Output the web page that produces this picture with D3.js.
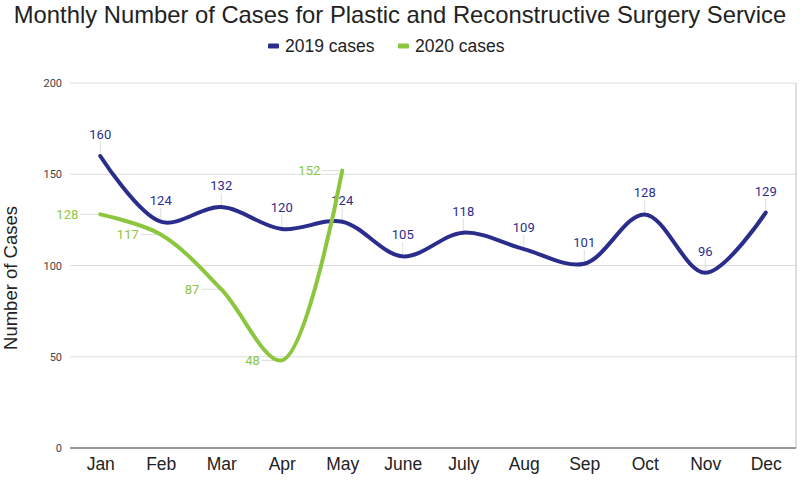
<!DOCTYPE html>
<html>
<head>
<meta charset="utf-8">
<script src="https://cdn.jsdelivr.net/npm/d3@7"></script>
<style>
  body { margin: 0; background: #fff; }
  svg { display: block; }
</style>
</head>
<body>
<svg id="chart" width="800" height="480"></svg>
<script>
// data
var months = ["Jan", "Feb", "Mar", "Apr", "May", "June", "July", "Aug", "Sep", "Oct", "Nov", "Dec"];
var cases2019 = [160, 124, 132, 120, 124, 105, 118, 109, 101, 128, 96, 129];
var cases2020 = [128, 117, 87, 48, 152];
var yTicks = [0, 50, 100, 150, 200];
var seriesNames = ["2019 cases", "2020 cases"];
var seriesColors = ["#2b2d8c", "#8cc63f"];

var margin = { top: 83, right: 4, bottom: 32, left: 70 },
    width = 800 - margin.left - margin.right,
    height = 480 - margin.top - margin.bottom;

var svg = d3.select("#chart");

// title
svg.append("text")
    .attr("x", 400)
    .attr("y", 23)
    .attr("text-anchor", "middle")
    .style("font-family", "Liberation Sans, Arial, sans-serif")
    .style("font-size", "23.8px")
    .style("fill", "#222")
    .text("Monthly Number of Cases for Plastic and Reconstructive Surgery Service");

// legend
var legend = svg.append("g").attr("transform", "translate(268,46)");
var legendX = [0, 130];
seriesNames.forEach(function(name, i) {
    var g = legend.append("g").attr("transform", "translate(" + legendX[i] + ",0)");
    g.append("rect")
        .attr("x", 0).attr("y", -2.5)
        .attr("width", 11).attr("height", 5)
        .attr("rx", 1)
        .style("fill", seriesColors[i]);
    g.append("text")
        .attr("x", 17).attr("y", 6)
        .style("font-family", "Liberation Sans, Arial, sans-serif")
        .style("font-size", "17.5px")
        .style("fill", "#222")
        .text(name);
});

var chart = svg.append("g")
    .attr("transform", "translate(" + margin.left + "," + margin.top + ")");

var x = d3.scalePoint()
    .domain(months)
    .range([0, width])
    .padding(0.5);

var y = d3.scaleLinear()
    .domain([0, 200])
    .range([height, 0]);

// gridlines
chart.append("g")
    .selectAll("line")
    .data(yTicks.slice(1))
    .enter().append("line")
    .attr("x1", 0).attr("x2", width)
    .attr("y1", function(d) { return y(d); })
    .attr("y2", function(d) { return y(d); })
    .style("stroke", "#dcdcdc")
    .style("stroke-width", 1.2);

// right border
chart.append("line")
    .attr("x1", width).attr("x2", width)
    .attr("y1", 0).attr("y2", height)
    .style("stroke", "#c8c8c8")
    .style("stroke-width", 1.2);

// y axis labels
var yAxis = chart.append("g")
    .call(d3.axisLeft(y).tickValues(yTicks).tickSize(0).tickPadding(8));
yAxis.select(".domain").remove();
yAxis.selectAll("text")
    .style("font-family", "Roboto, Arial, sans-serif")
    .style("font-size", "11px")
    .style("fill", "#444");

// x axis
var xAxis = chart.append("g")
    .attr("transform", "translate(0," + height + ")")
    .call(d3.axisBottom(x).tickSize(0).tickPadding(10));
xAxis.select(".domain")
    .style("stroke", "#777")
    .style("stroke-width", 1.5)
    .attr("d", "M0,0H" + width);
xAxis.selectAll("text")
    .style("font-family", "Liberation Sans, Arial, sans-serif")
    .style("font-size", "17.5px")
    .style("fill", "#222");

// y title
svg.append("text")
    .attr("transform", "translate(17,278) rotate(-90)")
    .attr("text-anchor", "middle")
    .style("font-family", "Liberation Sans, Arial, sans-serif")
    .style("font-size", "18.5px")
    .style("fill", "#222")
    .text("Number of Cases");

var line = d3.line()
    .x(function(d, i) { return x(months[i]); })
    .y(function(d) { return y(d); })
    .curve(d3.curveCatmullRom.alpha(0.5));

var allSeries = [cases2019, cases2020];

// leader lines and labels
// 2019: label above point; 2020: label left of point
allSeries.forEach(function(vals, s) {
    var lab = chart.append("g");
    vals.forEach(function(v, i) {
        var px = x(months[i]), py = y(v);
        if (s === 0) {
            lab.append("line")
                .attr("x1", px).attr("x2", px)
                .attr("y1", py - 14).attr("y2", py)
                .style("stroke", "#ddd").style("stroke-width", 1);
            lab.append("text")
                .attr("x", px).attr("y", py - 17)
                .attr("text-anchor", "middle")
                .style("font-family", "Roboto, Arial, sans-serif")
                .style("font-size", "13px")
                .style("fill", seriesColors[s])
                .text(v);
        } else {
            lab.append("line")
                .attr("x1", px - 20).attr("x2", px)
                .attr("y1", py).attr("y2", py)
                .style("stroke", "#ddd").style("stroke-width", 1);
            lab.append("text")
                .attr("x", px - 22).attr("y", py + 4.5)
                .attr("text-anchor", "end")
                .style("font-family", "Roboto, Arial, sans-serif")
                .style("font-size", "13px")
                .style("fill", seriesColors[s])
                .text(v);
        }
    });
});

// lines
allSeries.forEach(function(vals, s) {
    chart.append("path")
        .datum(vals)
        .attr("d", line)
        .style("fill", "none")
        .style("stroke", seriesColors[s])
        .style("stroke-width", 4)
        .style("stroke-linecap", "round")
        .style("stroke-linejoin", "round");
});
</script>
</body>
</html>
